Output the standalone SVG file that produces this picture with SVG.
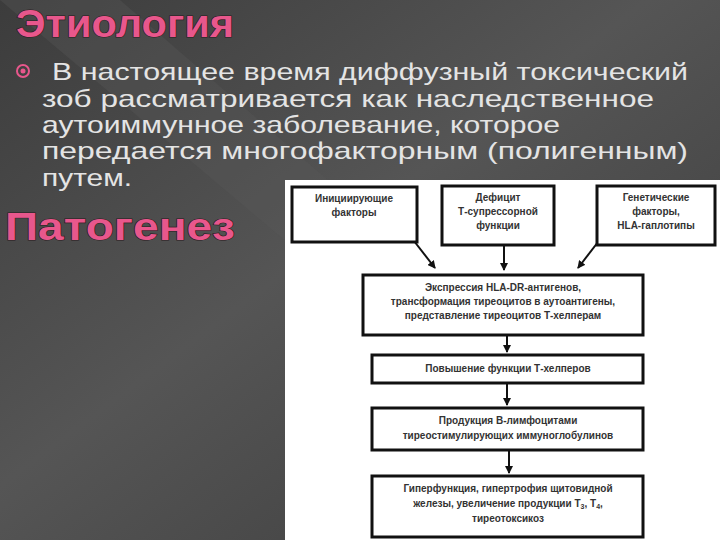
<svg xmlns="http://www.w3.org/2000/svg" width="720" height="540" viewBox="0 0 720 540">
<defs>
<linearGradient id="bg" x1="0" y1="0" x2="1" y2="1">
<stop offset="0" stop-color="#3c3c3c"/><stop offset="0.45" stop-color="#555"/><stop offset="1" stop-color="#3a3a3a"/>
</linearGradient>
<marker id="ah" markerWidth="8" markerHeight="8" refX="7" refY="4" orient="auto" markerUnits="userSpaceOnUse"><path d="M0,0 L8,4 L0,8 z" fill="#111"/></marker>
<style>
.t{font-family:"Liberation Sans",Arial,sans-serif;fill:#e4e4e4;font-size:24px}
.h{font-family:"Liberation Sans",Arial,sans-serif;font-weight:bold;font-size:38px;fill:#e8578c;stroke:#2a1a20;stroke-width:1.2;paint-order:stroke}
.b{fill:#fff;stroke:#111;stroke-width:3}
.bt{font-family:"Liberation Sans",Arial,sans-serif;font-size:10px;font-weight:bold;fill:#333;text-anchor:middle}
.c{stroke:#111;stroke-width:2;fill:none;marker-end:url(#ah)}
</style>
</defs>
<rect width="720" height="540" fill="url(#bg)"/>
<polygon points="0,0 120,0 720,520 720,540 640,540 0,0" fill="#5a5a5a" opacity="0.35"/>
<text class="h" x="16" y="37" textLength="218" lengthAdjust="spacingAndGlyphs">Этиология</text>
<circle cx="23" cy="71" r="6" fill="none" stroke="#e8578c" stroke-width="2"/>
<circle cx="23" cy="71" r="2.5" fill="#e8578c"/>
<text class="t" x="52" y="80" textLength="636" lengthAdjust="spacingAndGlyphs">В настоящее время диффузный токсический</text>
<text class="t" x="42" y="107" textLength="612" lengthAdjust="spacingAndGlyphs">зоб рассматривается как наследственное</text>
<text class="t" x="42" y="133" textLength="518" lengthAdjust="spacingAndGlyphs">аутоиммунное заболевание, которое</text>
<text class="t" x="42" y="159" textLength="646" lengthAdjust="spacingAndGlyphs">передается многофакторным (полигенным)</text>
<text class="t" x="42" y="186" textLength="90" lengthAdjust="spacingAndGlyphs">путем.</text>
<text class="h" x="5" y="240" textLength="230" lengthAdjust="spacingAndGlyphs">Патогенез</text>
<rect x="285" y="180" width="435" height="360" fill="#fff"/>
<g id="connectors">
<line class="c" x1="414" y1="241" x2="435" y2="268"/>
<line class="c" x1="504" y1="245" x2="504" y2="270"/>
<line class="c" x1="598" y1="242" x2="578" y2="268"/>
<line class="c" x1="507" y1="335" x2="507" y2="352"/>
<line class="c" x1="507" y1="383" x2="507" y2="405"/>
<line class="c" x1="509" y1="450" x2="509" y2="473"/>
</g>
<g id="n1"><rect class="b" x="292" y="187" width="125" height="55"/><text class="bt" x="354" y="202">Инициирующие</text><text class="bt" x="354" y="216">факторы</text></g>
<g id="n2"><rect class="b" x="442" y="186" width="112" height="59"/><text class="bt" x="498" y="201">Дефицит</text><text class="bt" x="498" y="215">Т-супрессорной</text><text class="bt" x="498" y="229">функции</text></g>
<g id="n3"><rect class="b" x="597" y="186" width="118" height="59"/><text class="bt" x="656" y="201">Генетические</text><text class="bt" x="656" y="215">факторы,</text><text class="bt" x="656" y="229">HLA-гаплотипы</text></g>
<g id="n4"><rect class="b" x="363" y="275" width="280" height="60"/><text class="bt" x="503" y="291">Экспрессия HLA-DR-антигенов,</text><text class="bt" x="503" y="305">трансформация тиреоцитов в аутоантигены,</text><text class="bt" x="503" y="319">представление тиреоцитов Т-хелперам</text></g>
<g id="n5"><rect class="b" x="372" y="355" width="271" height="28"/><text class="bt" x="508" y="372">Повышение функции Т-хелперов</text></g>
<g id="n6"><rect class="b" x="372" y="408" width="271" height="42"/><text class="bt" x="508" y="424">Продукция В-лимфоцитами</text><text class="bt" x="508" y="439">тиреостимулирующих иммуноглобулинов</text></g>
<g id="n7"><rect class="b" x="372" y="476" width="271" height="61"/><text class="bt" x="508" y="492">Гиперфункция, гипертрофия  щитовидной</text><text class="bt" x="508" y="507">железы, увеличение продукции Т<tspan font-size="7" dy="2">3</tspan><tspan dy="-2">, Т</tspan><tspan font-size="7" dy="2">4</tspan><tspan dy="-2">,</tspan></text><text class="bt" x="508" y="522">тиреотоксикоз</text></g>
</svg>
